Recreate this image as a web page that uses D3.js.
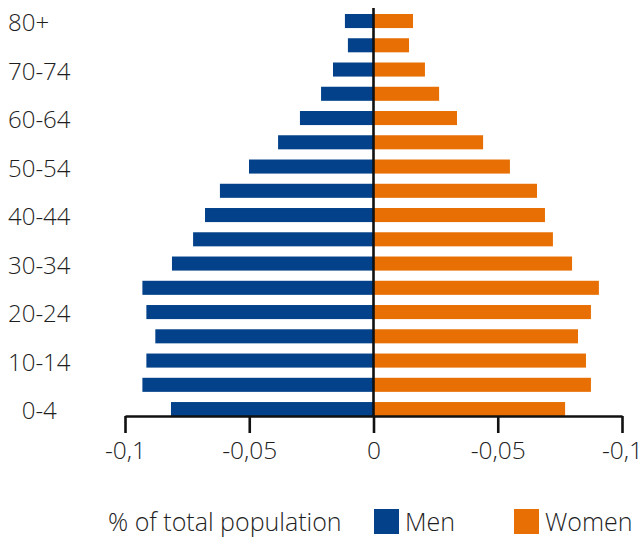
<!DOCTYPE html>
<html>
<head>
<meta charset="utf-8">
<script src="https://cdn.jsdelivr.net/npm/d3@7"></script>
<style>
  html, body { margin: 0; padding: 0; background: #fff; }
  svg { display: block; }
  text { font-family: "Open Sans", "Liberation Sans", sans-serif; font-weight: 300; fill: #1e1e1e; }
</style>
</head>
<body>
<svg id="chart" width="638" height="538"></svg>
<script>
const ageGroups = ["0-4","5-9","10-14","15-19","20-24","25-29","30-34","35-39","40-44","45-49","50-54","55-59","60-64","65-69","70-74","75-79","80+"];
const shownAgeLabels = ["0-4","10-14","20-24","30-34","40-44","50-54","60-64","70-74","80+"];
const men   = [0.0815,0.0930,0.0914,0.0878,0.0914,0.0930,0.0811,0.0726,0.0678,0.0618,0.0501,0.0384,0.0296,0.0211,0.0163,0.0103,0.0115];
const women = [0.0771,0.0875,0.0855,0.0823,0.0875,0.0907,0.0799,0.0722,0.0690,0.0658,0.0549,0.0441,0.0336,0.0264,0.0207,0.0143,0.0159];
const xTickValues = [-0.1,-0.05,0,0.05,0.1];
const xTickLabels = ["-0,1","-0,05","0","-0,05","-0,1"];
const seriesNames = ["Men","Women"];
const colors = ["#03428a","#e86f04"];
const axisTitle = "% of total population";

const FONT = "'Open Sans', 'Liberation Sans', sans-serif";
const svg = d3.select("#chart");
const x = d3.scaleLinear().domain([-0.1, 0.1]).range([125, 622]);
const y = d3.scaleBand().domain(ageGroups.slice().reverse()).range([8.9, 421.2]).paddingInner(0.42).paddingOuter(0.21);

// bars
svg.append("g").selectAll("rect").data(ageGroups).join("rect")
  .attr("x", (d,i) => x(-men[i]))
  .attr("width", (d,i) => x(0) - x(-men[i]))
  .attr("y", d => y(d))
  .attr("height", y.bandwidth())
  .attr("fill", colors[0]);
svg.append("g").selectAll("rect").data(ageGroups).join("rect")
  .attr("x", x(0))
  .attr("width", (d,i) => x(women[i]) - x(0))
  .attr("y", d => y(d))
  .attr("height", y.bandwidth())
  .attr("fill", colors[1]);

// zero line
svg.append("line")
  .attr("x1", x(0)).attr("x2", x(0))
  .attr("y1", 8).attr("y2", 416)
  .attr("stroke", "#111").attr("stroke-width", 2.6);

// x axis
const xAxis = d3.axisBottom(x).tickValues(xTickValues)
  .tickFormat((d,i) => xTickLabels[i]).tickSize(17).tickSizeOuter(0).tickPadding(9);
const gx = svg.append("g").attr("transform", "translate(0,416)").call(xAxis);
gx.select(".domain").attr("stroke", "#111").attr("stroke-width", 2.6);
gx.selectAll(".tick line").attr("stroke", "#111").attr("stroke-width", 2.6);
gx.selectAll(".tick text").attr("font-size", 24.5).attr("fill", "#1e1e1e")
  .style("font-family", FONT).style("font-weight", 300);

// y axis labels
const yAxis = d3.axisLeft(y).tickValues(shownAgeLabels)
  .tickFormat(d => d === "0-4" ? "\u2007" + d : d).tickSize(0);
const gy = svg.append("g").attr("transform", "translate(8,2.5)").call(yAxis);
gy.select(".domain").remove();
gy.selectAll(".tick text").attr("text-anchor", "start").attr("x", 0)
  .attr("font-size", 24).attr("fill", "#1e1e1e")
  .style("font-family", FONT).style("font-weight", 300);

// legend
const lg = svg.append("g");
lg.append("text").attr("x", 108).attr("y", 531).attr("font-size", 25).text(axisTitle);
const legendX = [374, 514];
seriesNames.forEach((name, i) => {
  lg.append("rect").attr("x", legendX[i]).attr("y", 509).attr("width", 25).attr("height", 25).attr("fill", colors[i]);
  lg.append("text").attr("x", legendX[i] + 31).attr("y", 531).attr("font-size", 25).text(name);
});
</script>
</body>
</html>
